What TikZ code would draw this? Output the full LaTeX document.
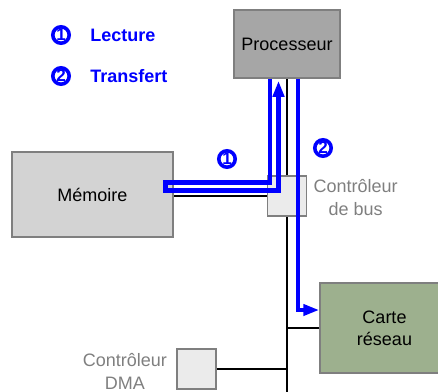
\documentclass[tikz,border=0pt]{standalone}
\usepackage{fontspec}
\setmainfont{Liberation Sans}
\usetikzlibrary{calc,arrows.meta}
\definecolor{boxline}{HTML}{7F7F7F}
\definecolor{procgray}{HTML}{A6A6A6}
\definecolor{memgray}{HTML}{D3D3D3}
\definecolor{ctlgray}{HTML}{EBEBEB}
\definecolor{netgreen}{HTML}{9DB08E}
\definecolor{labelgray}{HTML}{7F7F7F}
\begin{document}
\begin{tikzpicture}[x=0.5pt, y=-0.5pt, >={Triangle[length=8pt,width=5.5pt]},
    box/.style={draw=boxline, line width=0.75pt, inner sep=0pt, align=center, font=\fontsize{9}{11}\selectfont},
    ctl/.style={draw=boxline, fill=ctlgray, line width=0.75pt, minimum width=19.5pt, minimum height=20pt},
    ctllabel/.style={text=labelgray, inner sep=0pt, align=center, font=\fontsize{9}{11.5}\selectfont},
    num/.style={circle, draw=blue, fill=white, line width=1.8pt, inner sep=0pt, minimum size=8.2pt, text=blue, font=\fontsize{8.5}{8.5}\selectfont\bfseries},
    legend/.style={text=blue, inner sep=0pt, anchor=west, font=\fontsize{9}{11}\selectfont\bfseries},
    flow/.style={blue, line width=2.3pt},
    bus/.style={black, line width=0.8pt}]
    \useasboundingbox (0,0) rectangle (438,391);

    % 1. les blocs
    \node[box, fill=procgray, minimum width=53pt, minimum height=34pt] (proc) at (287,44) {Processeur};
    \node[box, fill=memgray, minimum width=80.5pt, minimum height=42.5pt] (mem) at (92.5,194.5) {Mémoire};
    \node[box, fill=netgreen, minimum width=64.5pt, minimum height=45pt] (net) at (384.5,328) {Carte\\réseau};
    \node[ctl] (dma) at (196.5,369) {};
    \node[ctllabel, anchor=east] (dmalabel) at ($(dma.west)+(-9,2)$) {Contrôleur\\DMA};

    % 2. le bus
    \coordinate (busend) at (287,395);
    \draw[bus] (proc.south) -- (busend);
    \draw[bus] (net.west) -- (net.west -| proc.south);
    \draw[bus] (dma.east) -- (dma.east -| proc.south);

    % 3. contrôleur de bus (par-dessus le bus)
    \node[ctl] (busctl) at (287,196) {};
    \node[ctllabel, anchor=west] (busctllabel) at ($(busctl.east)+(6,2)$) {Contrôleur\\de bus};
    \draw[bus] (busctl.west) -- (busctl.west -| mem.east);

    % 4. les deux flux
    \draw[flow, ->] ($(proc.south)+(-17,0)$) |- ($(mem.east)+(-8.5,-12)$)
        -- ($(mem.east)+(-8.5,-4)$) -| ($(proc.south)+(-8.5,2)$);
    \draw[flow, ->] ($(proc.south)+(11,0)$) |- ($(net.west)+(0,-18)$);
    \node[num] (step1) at (227,159) {1};
    \node[num] (step2) at (323,148) {2};

    % 5. légende
    \node[num] (key1) at (61,35) {1};
    \node[legend] (lecture) at (90,35) {Lecture};
    \node[num] (key2) at (61,76) {2};
    \node[legend] (transfert) at (90,76) {Transfert};
\end{tikzpicture}
\end{document}
